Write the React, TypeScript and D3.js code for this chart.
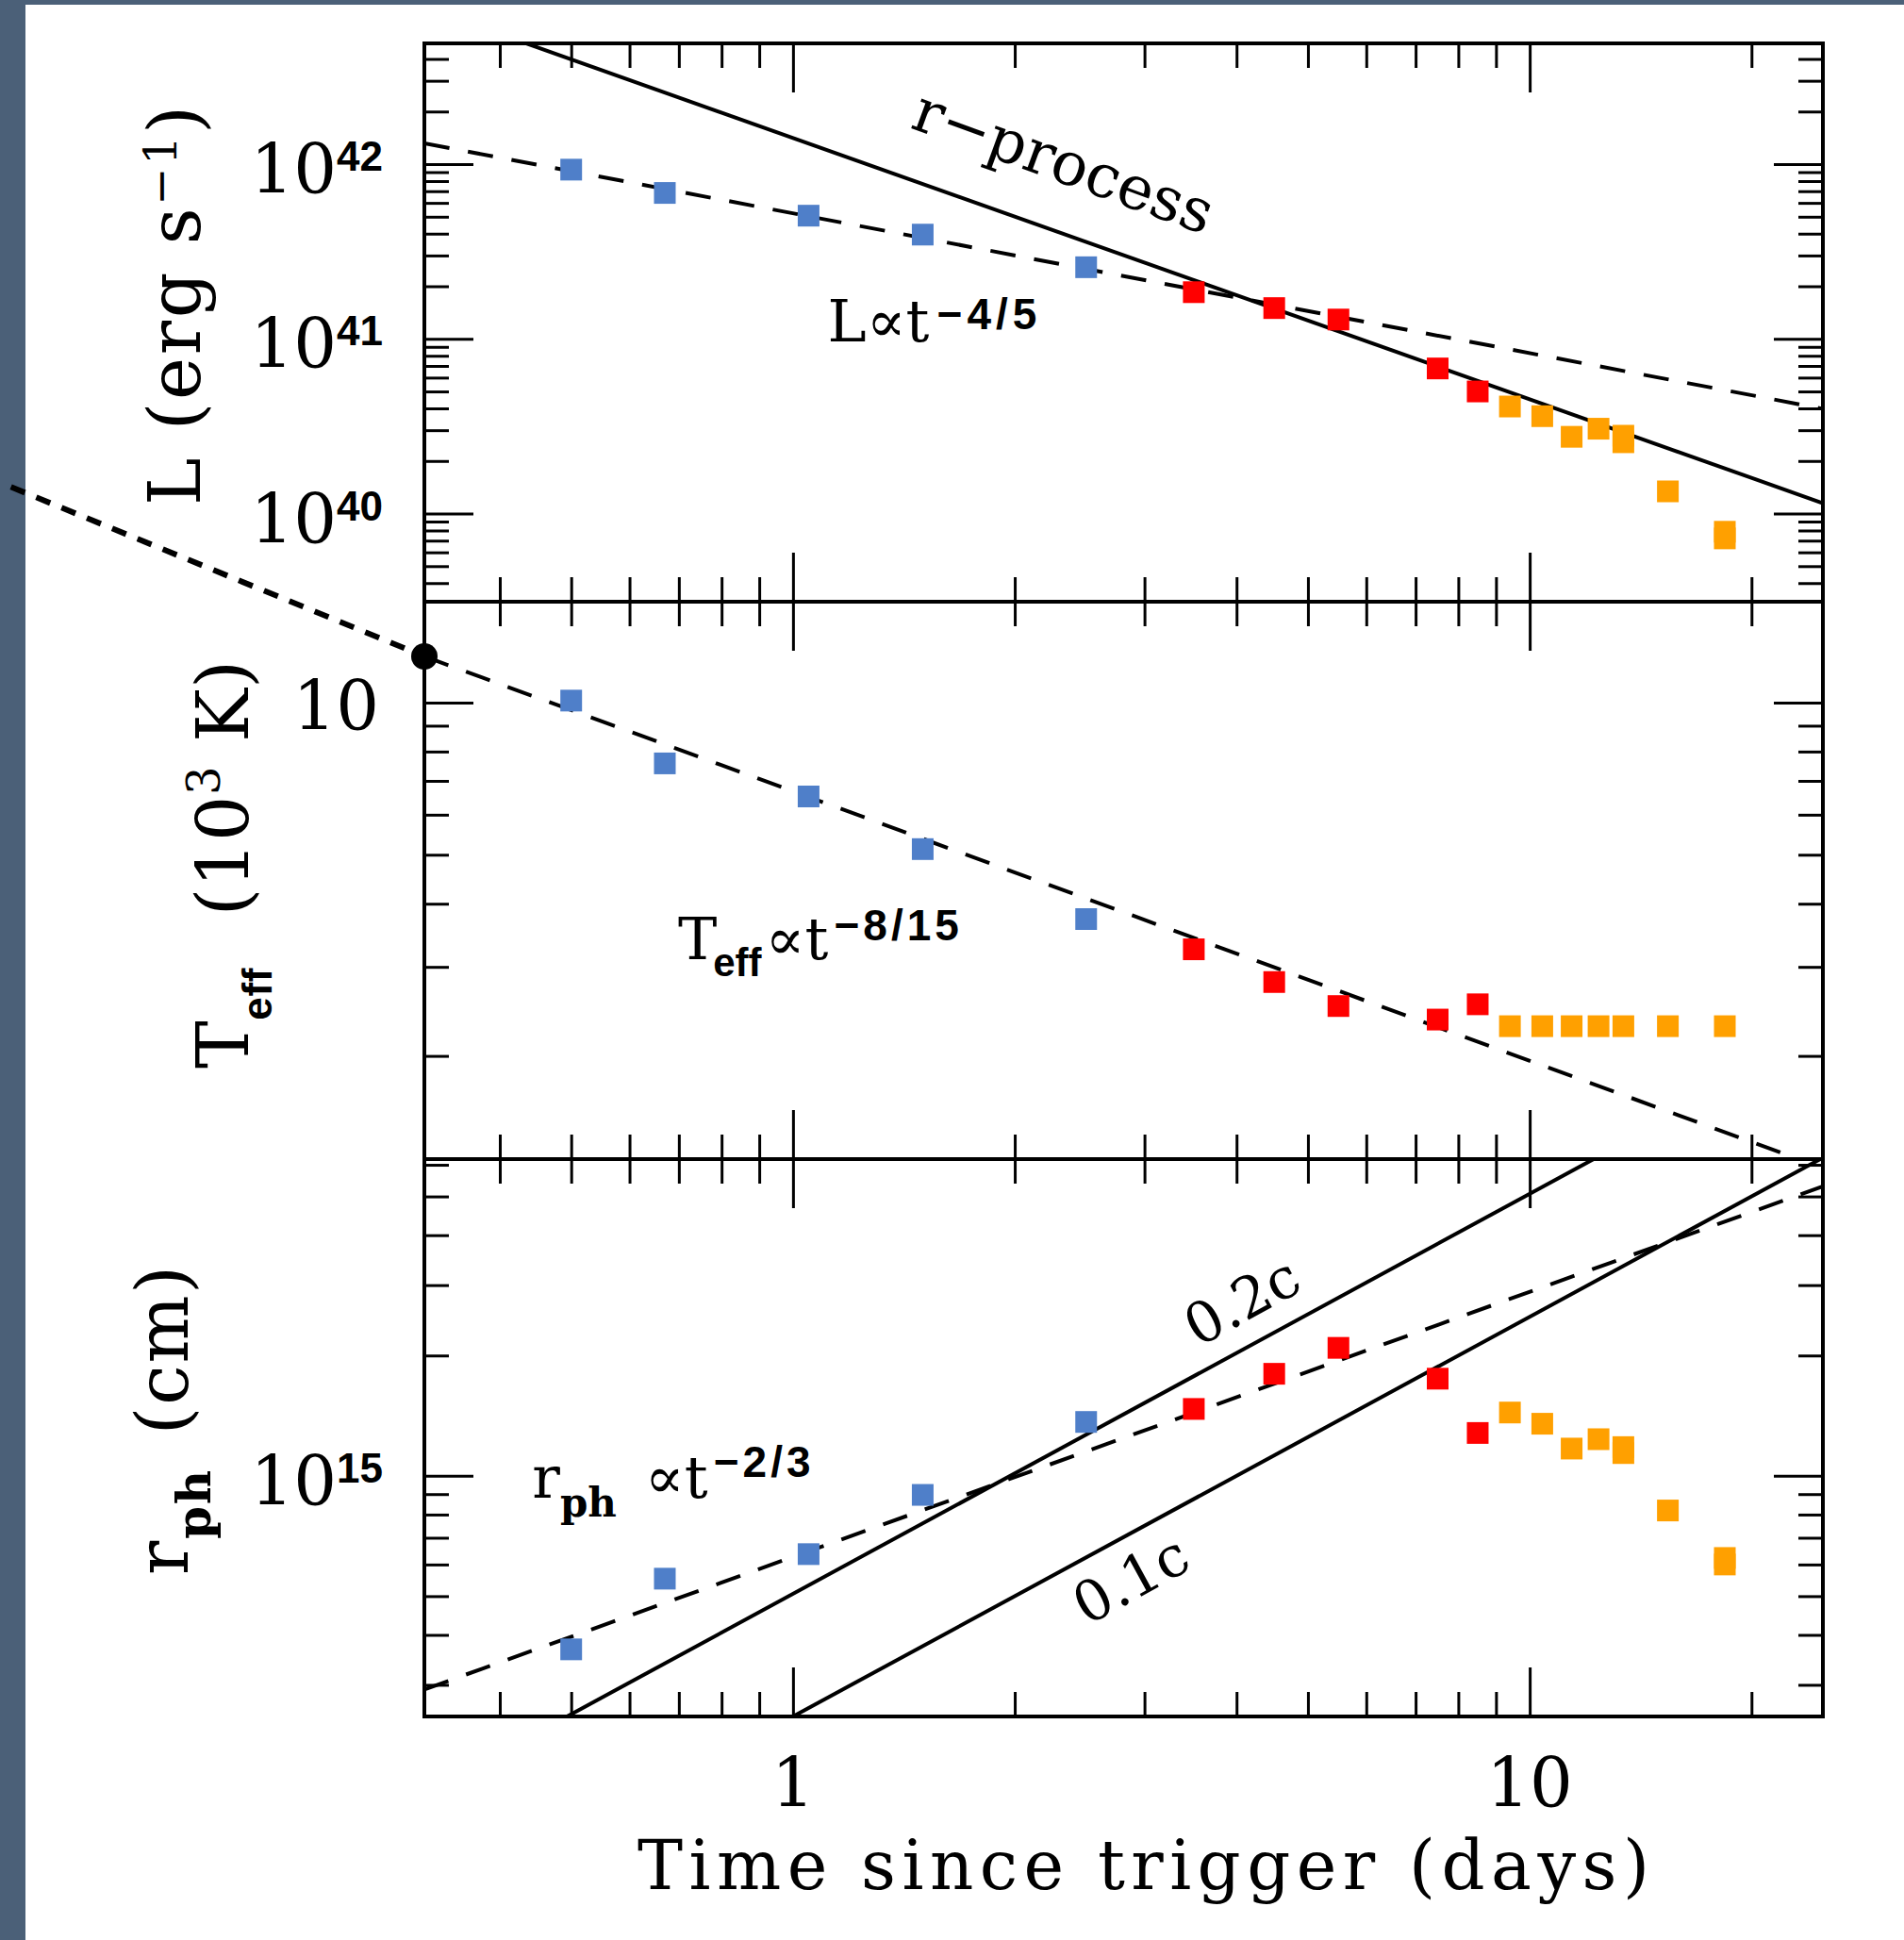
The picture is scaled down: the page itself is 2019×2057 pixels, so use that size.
import React, { useRef, useEffect } from 'react'
import * as d3 from 'd3'

// ---- data ----
// time since trigger (days)
const xDomain = [0.316, 25]
const xTickLabels = [1, 10]

// luminosity panel (erg s^-1)
const lDomain = [3.13e39, 4.91e42]
const lTickValues = [1e40, 1e41, 1e42]
const lTickExps = ['40', '41', '42']
const lBlue = [[0.5, 9.3e41], [0.67, 6.84e41], [1.05, 5.07e41], [1.5, 3.95e41], [2.5, 2.57e41]]
const lRed = [[3.5, 1.85e41], [4.5, 1.5e41], [5.5, 1.29e41], [7.5, 6.77e40], [8.5, 5.0e40]]
const lOrange = [[9.4, 4.1e40], [10.4, 3.61e40], [11.4, 2.75e40], [12.4, 3.06e40], [13.4, 2.79e40], [13.4, 2.56e40], [15.4, 1.34e40], [18.4, 7.87e39], [18.4, 7.21e39]]
const lRProcess = [[0.316, 7.9e42], [25, 1.147e40]]
const lFit = [[0.316, 1.315e42], [25, 3.98e40]]

// temperature panel (10^3 K)
const tDomain = [1.25, 15.83]
const tTickValues = [10]
const tBlue = [[0.5, 10.09], [0.67, 7.58], [1.05, 6.52], [1.5, 5.13], [2.5, 3.73]]
const tRed = [[3.5, 3.25], [4.5, 2.8], [5.5, 2.51], [7.5, 2.36], [8.5, 2.53]]
const tOrange = [[9.4, 2.29], [10.4, 2.29], [11.4, 2.29], [12.4, 2.29], [13.4, 2.29], [15.4, 2.29], [18.4, 2.29]]
const tFit = [[0.316, 12.34], [25, 1.2]]
const tExtrap = [[0.0868, 26.7], [0.316, 12.34]]

// photospheric radius panel (cm)
const rDomain = [2.5e14, 6.2e15]
const rTickValues = [1e15]
const rTickExps = ['15']
const rBlue = [[0.5, 3.68e14], [0.67, 5.53e14], [1.05, 6.37e14], [1.5, 8.96e14], [2.5, 1.364e15]]
const rRed = [[3.5, 1.47e15], [4.5, 1.8e15], [5.5, 2.09e15], [7.5, 1.75e15], [8.5, 1.28e15]]
const rOrange = [[9.4, 1.44e15], [10.4, 1.35e15], [11.4, 1.17e15], [12.4, 1.235e15], [13.4, 1.18e15], [13.4, 1.14e15], [15.4, 8.19e14], [18.4, 6.23e14], [18.4, 6.0e14]]
const rFit = [[0.316, 2.92e14], [25, 5.3e15]]
const r02c = [[0.316, 1.6e14], [25, 1.27e16]]
const r01c = [[0.316, 7.9e13], [25, 6.25e15]]

const BLUE = '#4F7FC9'
const RED = '#FF0000'
const ORANGE = '#FFA000'
const SERIF = "'DejaVu Serif', serif"
const SANS = "'Liberation Sans', Arial, sans-serif"

const W = 2019
const H = 2057
const left = 450
const right = 1933
const rows = [46, 638, 1229, 1820]

// append a text made of styled pieces
function rich(parent, parts, size, family) {
  const t = parent.append('text')
    .attr('font-size', size)
    .attr('font-family', family || SERIF)
    .attr('fill', '#000')
  parts.forEach(p => {
    const s = t.append('tspan').text(p.t)
    if (p.size) s.attr('font-size', p.size)
    if (p.family) s.attr('font-family', p.family)
    if (p.bold) s.attr('font-weight', 'bold')
    if (p.dy) s.attr('dy', p.dy)
    if (p.dx) s.attr('dx', p.dx)
    if (p.ls) s.attr('letter-spacing', p.ls)
  })
  return t
}

const isMajor = v => Math.abs(Math.log10(v) - Math.round(Math.log10(v))) < 1e-6

export default function App() {
  const svgRef = useRef(null)

  useEffect(() => {
    const svg = d3.select(svgRef.current)
    svg.selectAll('*').remove()

    svg.append('rect').attr('width', W).attr('height', H).attr('fill', '#fff')
    svg.append('rect').attr('width', 27).attr('height', H).attr('fill', '#4B6078')
    svg.append('rect').attr('width', W).attr('height', 5).attr('fill', '#4B6078')

    const x = d3.scaleLog().domain(xDomain).range([left, right])

    const panels = [
      { domain: lDomain, top: rows[0], bottom: rows[1],
        series: [[lBlue, BLUE], [lRed, RED], [lOrange, ORANGE]],
        lines: [[lRProcess, null], [lFit, '27 20']] },
      { domain: tDomain, top: rows[1], bottom: rows[2],
        series: [[tBlue, BLUE], [tRed, RED], [tOrange, ORANGE]],
        lines: [[tFit, '27 20']] },
      { domain: rDomain, top: rows[2], bottom: rows[3],
        series: [[rBlue, BLUE], [rRed, RED], [rOrange, ORANGE]],
        lines: [[r02c, null], [r01c, null], [rFit, '27 20']] },
    ]

    const scales = panels.map(p => d3.scaleLog().domain(p.domain).range([p.bottom, p.top]))

    panels.forEach((p, i) => {
      const y = scales[i]
      const g = svg.append('g')
      const clipId = `clip-${i}`
      g.append('clipPath').attr('id', clipId)
        .append('rect')
        .attr('x', left).attr('y', p.top)
        .attr('width', right - left).attr('height', p.bottom - p.top)

      const line = d3.line().x(d => x(d[0])).y(d => y(d[1]))
      const plot = g.append('g').attr('clip-path', `url(#${clipId})`)

      p.lines.forEach(([pts, dash]) => {
        plot.append('path')
          .attr('d', line(pts))
          .attr('fill', 'none')
          .attr('stroke', '#000')
          .attr('stroke-width', 4)
          .attr('stroke-dasharray', dash)
      })

      p.series.forEach(([pts, color]) => {
        plot.selectAll(null)
          .data(pts)
          .join('rect')
          .attr('x', d => x(d[0]) - 11.5)
          .attr('y', d => y(d[1]) - 11.5)
          .attr('width', 23)
          .attr('height', 23)
          .attr('fill', color)
      })

      // ticks on all four sides, pointing inwards
      const ax = g.append('g')
      const xt = x.ticks()
      const yt = y.ticks()
      const sets = [[false, 26], [true, 52]]
      sets.forEach(([major, len]) => {
        const xv = xt.filter(v => isMajor(v) === major)
        const yv = yt.filter(v => isMajor(v) === major)
        ax.append('g').attr('transform', `translate(0,${p.bottom})`)
          .call(d3.axisBottom(x).tickValues(xv).tickSize(-len).tickFormat(() => ''))
        ax.append('g').attr('transform', `translate(0,${p.top})`)
          .call(d3.axisTop(x).tickValues(xv).tickSize(-len).tickFormat(() => ''))
        ax.append('g').attr('transform', `translate(${left},0)`)
          .call(d3.axisLeft(y).tickValues(yv).tickSize(-len).tickFormat(() => ''))
        ax.append('g').attr('transform', `translate(${right},0)`)
          .call(d3.axisRight(y).tickValues(yv).tickSize(-len).tickFormat(() => ''))
      })
      ax.selectAll('.domain').remove()
      ax.selectAll('.tick line').attr('stroke', '#000').attr('stroke-width', 3)

      g.append('rect')
        .attr('x', left).attr('y', p.top)
        .attr('width', right - left).attr('height', p.bottom - p.top)
        .attr('fill', 'none').attr('stroke', '#000').attr('stroke-width', 4)
    })

    const [yL, yT, yR] = scales

    // y tick labels
    lTickValues.forEach((v, i) => {
      rich(svg, [{ t: '10' }, { t: lTickExps[i], size: 44, family: SANS, bold: true, dy: -24 }], 72)
        .attr('x', 406).attr('y', yL(v) + 31).attr('text-anchor', 'end')
    })
    tTickValues.forEach(v => {
      rich(svg, [{ t: String(v) }], 72)
        .attr('x', 402).attr('y', yT(v) + 29).attr('text-anchor', 'end')
    })
    rTickValues.forEach((v, i) => {
      rich(svg, [{ t: '10' }, { t: rTickExps[i], size: 44, family: SANS, bold: true, dy: -24 }], 72)
        .attr('x', 406).attr('y', yR(v) + 31).attr('text-anchor', 'end')
    })

    // x tick labels
    xTickLabels.forEach(v => {
      rich(svg, [{ t: String(v) }], 72)
        .attr('x', x(v)).attr('y', 1916).attr('text-anchor', 'middle')
    })

    // axis titles
    rich(svg, [{ t: 'Time since trigger (days)' }], 72)
      .attr('x', 676).attr('y', 2003)
      .attr('textLength', 1073).attr('lengthAdjust', 'spacing')

    rich(svg, [
      { t: 'L (erg s' },
      { t: '−1', size: 48, dy: -25 },
      { t: ')', dy: 25 },
    ], 76)
      .attr('transform', 'translate(212,536) rotate(-90)')
      .attr('textLength', 424).attr('lengthAdjust', 'spacing')

    rich(svg, [
      { t: 'T' },
      { t: 'eff', size: 44, family: SANS, bold: true, dy: 25 },
      { t: ' (10', dy: -25, dx: 30 },
      { t: '3', size: 48, dy: -30 },
      { t: ' K)', dy: 30 },
    ], 76)
      .attr('transform', 'translate(263,1133) rotate(-90)')
      .attr('textLength', 433).attr('lengthAdjust', 'spacing')

    rich(svg, [
      { t: 'r' },
      { t: 'ph', size: 50, bold: true, dy: 24 },
      { t: ' (cm)', dy: -24, dx: 10 },
    ], 76)
      .attr('transform', 'translate(199,1670) rotate(-90)')
      .attr('textLength', 328).attr('lengthAdjust', 'spacing')

    // in-panel annotations (positions in data units)
    rich(svg, [{ t: 'r−process' }], 64)
      .attr('text-anchor', 'middle')
      .attr('transform', `translate(${x(2.28)},${yL(8.0e41)}) rotate(20)`)

    rich(svg, [
      { t: 'L∝t' },
      { t: '−4/5', size: 46, family: SANS, bold: true, dy: -13, dx: 8, ls: 5 },
    ], 62).attr('x', x(1.114)).attr('y', yL(9.67e40))

    rich(svg, [
      { t: 'T' },
      { t: 'eff', size: 42, family: SANS, bold: true, dy: 18, dx: -4 },
      { t: '∝t', dy: -18, dx: 4 },
      { t: '−8/15', size: 46, family: SANS, bold: true, dy: -20, dx: 6, ls: 4 },
    ], 62).attr('x', x(0.698)).attr('y', yT(3.11))

    rich(svg, [
      { t: 'r' },
      { t: 'ph', size: 42, bold: true, dy: 20 },
      { t: '∝t', dy: -20, dx: 30 },
      { t: '−2/3', size: 46, family: SANS, bold: true, dy: -22, dx: 6, ls: 4 },
    ], 62).attr('x', x(0.4426)).attr('y', yR(8.82e14))

    rich(svg, [{ t: '0.2c' }], 60)
      .attr('text-anchor', 'middle')
      .attr('transform', `translate(${x(4.19)},${yR(2.475e15)}) rotate(-28.7)`)

    rich(svg, [{ t: '0.1c' }], 60)
      .attr('text-anchor', 'middle')
      .attr('transform', `translate(${x(2.96)},${yR(4.98e14)}) rotate(-28.7)`)

    // dotted extrapolation of the temperature fit outside the frame
    const extrap = d3.line().x(d => x(d[0])).y(d => yT(d[1]))
    svg.append('path')
      .attr('d', extrap(tExtrap))
      .attr('fill', 'none')
      .attr('stroke', '#000')
      .attr('stroke-width', 6)
      .attr('stroke-dasharray', '16 13')
    svg.append('circle')
      .attr('cx', x(tExtrap[1][0]))
      .attr('cy', yT(tExtrap[1][1]))
      .attr('r', 14)
      .attr('fill', '#000')
  }, [])

  return (
    <div style={{ position: 'absolute', left: 0, top: 0 }}>
      <svg ref={svgRef} width={W} height={H} style={{ display: 'block' }} />
    </div>
  )
}
